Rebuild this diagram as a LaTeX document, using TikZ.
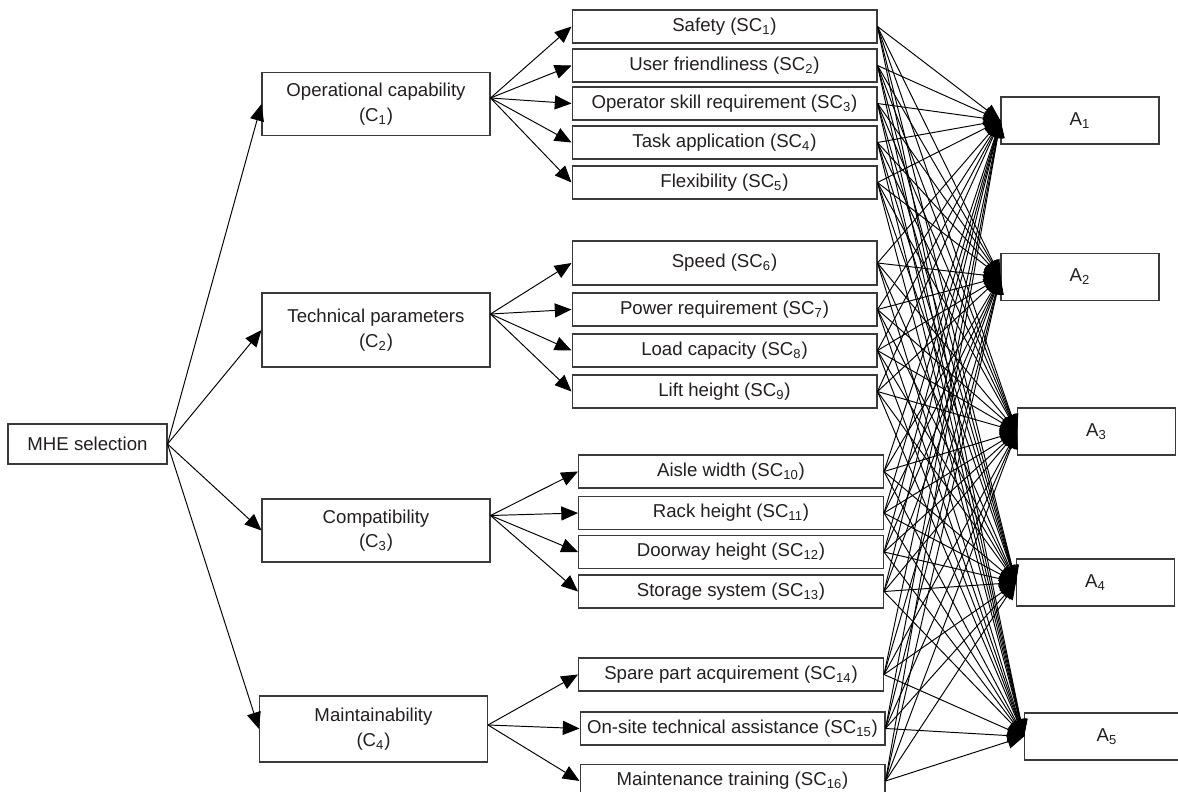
\documentclass[tikz,border=0pt]{standalone}
\usepackage{fontspec}
\setmainfont{Liberation Sans}
\usetikzlibrary{arrows.meta, positioning}
\definecolor{boxLine}{HTML}{3A3A3A}
\definecolor{textDark}{HTML}{231F20}

\begin{document}
\begin{tikzpicture}[
    x=0.02cm, y=-0.02cm,
    box/.style={rectangle, draw=boxLine, line width=0.6pt, fill=white,
                font=\fontsize{10.6}{14}\selectfont\color{textDark},
                align=center, inner sep=2pt},
    goal/.style={box, minimum width=3.18cm, minimum height=0.8cm},
    crit/.style={box, minimum width=4.56cm, minimum height=1.26cm},
    subcrit/.style={box, minimum width=6.1cm, minimum height=0.66cm},
    alt/.style={box, minimum width=3.16cm, minimum height=0.94cm},
    arr/.style={-{Triangle[length=9.5pt, width=8pt]}, line width=0.55pt, black},
  ]
    \useasboundingbox (0,0) rectangle (1178,792);

    \node[goal] (mhe) at (87.5,444) {MHE selection};

    \node[crit] (c1) at (376,104) {Operational capability\\(C\textsubscript{1})};
    \node[crit, minimum height=1.48cm] (c2) at (376,330) {Technical parameters\\(C\textsubscript{2})};
    \node[crit] (c3) at (376,530.5) {Compatibility\\(C\textsubscript{3})};
    \node[crit, minimum height=1.32cm] (c4) at (373.5,729) {Maintainability\\(C\textsubscript{4})};

    \node[subcrit] (sc1) at (724.5,26.5) {Safety (SC\textsubscript{1})};
    \node[subcrit] (sc2) at (724.5,65.5) {User friendliness (SC\textsubscript{2})};
    \node[subcrit] (sc3) at (724.5,103.5) {Operator skill requirement (SC\textsubscript{3})};
    \node[subcrit] (sc4) at (724.5,142.5) {Task application (SC\textsubscript{4})};
    \node[subcrit] (sc5) at (724.5,182.5) {Flexibility (SC\textsubscript{5})};
    \node[subcrit, minimum height=0.88cm] (sc6) at (724.5,263) {Speed (SC\textsubscript{6})};
    \node[subcrit] (sc7) at (724.5,309.5) {Power requirement (SC\textsubscript{7})};
    \node[subcrit] (sc8) at (724.5,350.5) {Load capacity (SC\textsubscript{8})};
    \node[subcrit] (sc9) at (724.5,391.5) {Lift height (SC\textsubscript{9})};
    \node[subcrit] (sc10) at (731,471.5) {Aisle width (SC\textsubscript{10})};
    \node[subcrit] (sc11) at (731,513) {Rack height (SC\textsubscript{11})};
    \node[subcrit] (sc12) at (731,552) {Doorway height (SC\textsubscript{12})};
    \node[subcrit] (sc13) at (731,591.5) {Storage system (SC\textsubscript{13})};
    \node[subcrit] (sc14) at (731,674.5) {Spare part acquirement (SC\textsubscript{14})};
    \node[subcrit] (sc15) at (732.5,728.5) {On-site technical assistance (SC\textsubscript{15})};
    \node[subcrit] (sc16) at (732.5,781) {Maintenance training (SC\textsubscript{16})};

    \node[alt] (a1) at (1080,120.5) {A\textsubscript{1}};
    \node[alt] (a2) at (1080,277) {A\textsubscript{2}};
    \node[alt] (a3) at (1096.5,431.5) {A\textsubscript{3}};
    \node[alt] (a4) at (1095.5,582.5) {A\textsubscript{4}};
    \node[alt, minimum width=3.3cm] (a5) at (1107,736.5) {A\textsubscript{5}};

    \foreach \c in {1,...,4}
      \draw[arr] (mhe.east) -- (c\c.west);
    \foreach \s in {1,...,5}
      \draw[arr] ([yshift=0.12cm]c1.east) -- (sc\s.west);
    \foreach \s in {6,...,9}
      \draw[arr] ([yshift=0.32cm]c2.east) -- (sc\s.west);
    \foreach \s in {10,...,13}
      \draw[arr] ([yshift=0.3cm]c3.east) -- (sc\s.west);
    \foreach \s in {14,15,16}
      \draw[arr] ([yshift=0.08cm]c4.east) -- (sc\s.west);
    \foreach \s in {1,...,16}
      \foreach \a in {1,...,5}
        \draw[arr] (sc\s.east) -- (a\a.west);
  \end{tikzpicture}
\end{document}
